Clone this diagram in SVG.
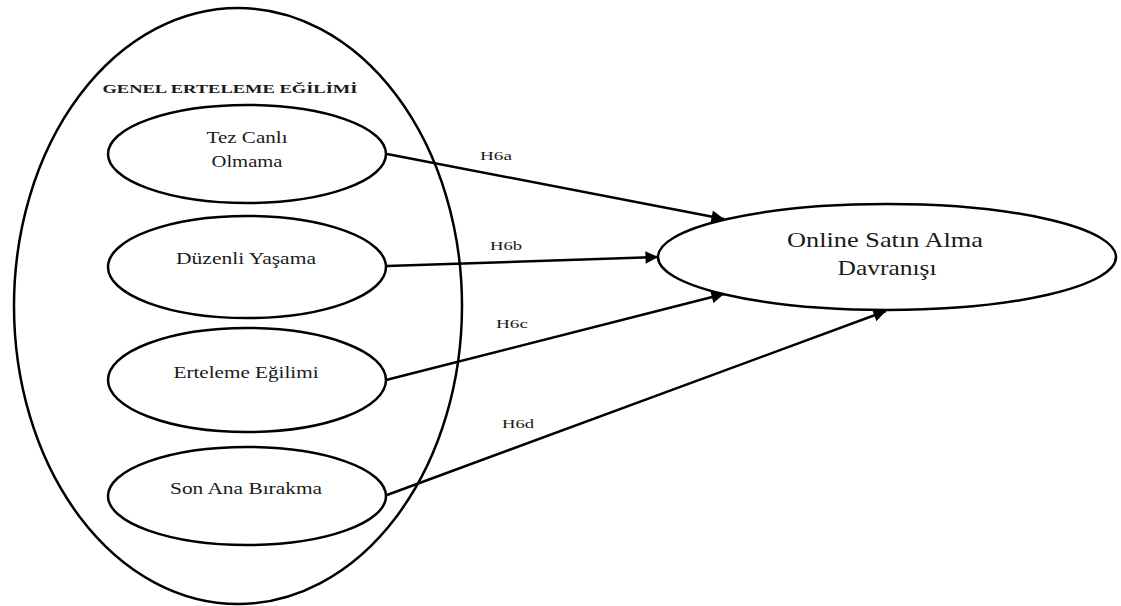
<svg xmlns="http://www.w3.org/2000/svg" width="1121" height="606" viewBox="0 0 1121 606">
  <style>
    .shape { fill: #ffffff; stroke: #000000; stroke-width: 2.5; }
    .outer { fill: none; stroke: #000000; stroke-width: 2.5; }
    .link { fill: none; stroke: #000000; stroke-width: 2.5; marker-end: url(#arrow); }
    .lbl { font-family: "Liberation Serif", "Times New Roman", serif; fill: #1a1a1a; text-anchor: middle; }
    .node { font-size: 17.5px; }
    .big { font-size: 21px; }
    .hyp { font-size: 13.5px; }
    .title { font-size: 13.5px; font-weight: bold; }
  </style>
  <defs>
    <marker id="arrow" viewBox="0 0 10 10" refX="10" refY="5" markerWidth="6.5" markerHeight="5" markerUnits="strokeWidth" orient="auto">
      <path d="M0,0 L10,5 L0,10 Z" fill="#000000"/>
    </marker>
  </defs>
  <rect width="1121" height="606" fill="#ffffff"/>

  <!-- container: general procrastination tendency -->
  <g id="genel-erteleme">
    <ellipse class="outer" cx="238" cy="306" rx="224" ry="298"/>
    <text class="lbl title" x="230" y="93" textLength="255" lengthAdjust="spacingAndGlyphs">GENEL ERTELEME EĞİLİMİ</text>
  </g>

  <g id="tez-canli">
    <ellipse class="shape" cx="247" cy="154" rx="139" ry="49"/>
    <text class="lbl node" x="247" y="143" textLength="81" lengthAdjust="spacingAndGlyphs">Tez Canlı</text>
    <text class="lbl node" x="247" y="167" textLength="71" lengthAdjust="spacingAndGlyphs">Olmama</text>
  </g>

  <g id="duzenli-yasama">
    <ellipse class="shape" cx="247" cy="267" rx="139" ry="51"/>
    <text class="lbl node" x="246" y="264" textLength="140" lengthAdjust="spacingAndGlyphs">Düzenli Yaşama</text>
  </g>

  <g id="erteleme-egilimi">
    <ellipse class="shape" cx="247" cy="380" rx="139" ry="52"/>
    <text class="lbl node" x="246" y="378" textLength="145" lengthAdjust="spacingAndGlyphs">Erteleme Eğilimi</text>
  </g>

  <g id="son-ana-birakma">
    <ellipse class="shape" cx="247" cy="496" rx="139" ry="49"/>
    <text class="lbl node" x="246" y="494" textLength="152" lengthAdjust="spacingAndGlyphs">Son Ana Bırakma</text>
  </g>

  <g id="online-satin-alma">
    <ellipse class="shape" cx="887" cy="257" rx="229" ry="53"/>
    <text class="lbl big" x="885" y="247" textLength="196" lengthAdjust="spacingAndGlyphs">Online Satın Alma</text>
    <text class="lbl big" x="887" y="275" textLength="99" lengthAdjust="spacingAndGlyphs">Davranışı</text>
  </g>

  <!-- hypothesised paths -->
  <g id="connectors">
    <line class="link" x1="387" y1="154" x2="724" y2="219"/>
    <line class="link" x1="387" y1="266" x2="658" y2="257"/>
    <line class="link" x1="386" y1="380" x2="724" y2="294"/>
    <line class="link" x1="387" y1="495" x2="886" y2="311"/>
    <text class="lbl hyp" x="496" y="160" textLength="32" lengthAdjust="spacingAndGlyphs">H6a</text>
    <text class="lbl hyp" x="506" y="250" textLength="32" lengthAdjust="spacingAndGlyphs">H6b</text>
    <text class="lbl hyp" x="512" y="328" textLength="32" lengthAdjust="spacingAndGlyphs">H6c</text>
    <text class="lbl hyp" x="518" y="428" textLength="32" lengthAdjust="spacingAndGlyphs">H6d</text>
  </g>
</svg>
